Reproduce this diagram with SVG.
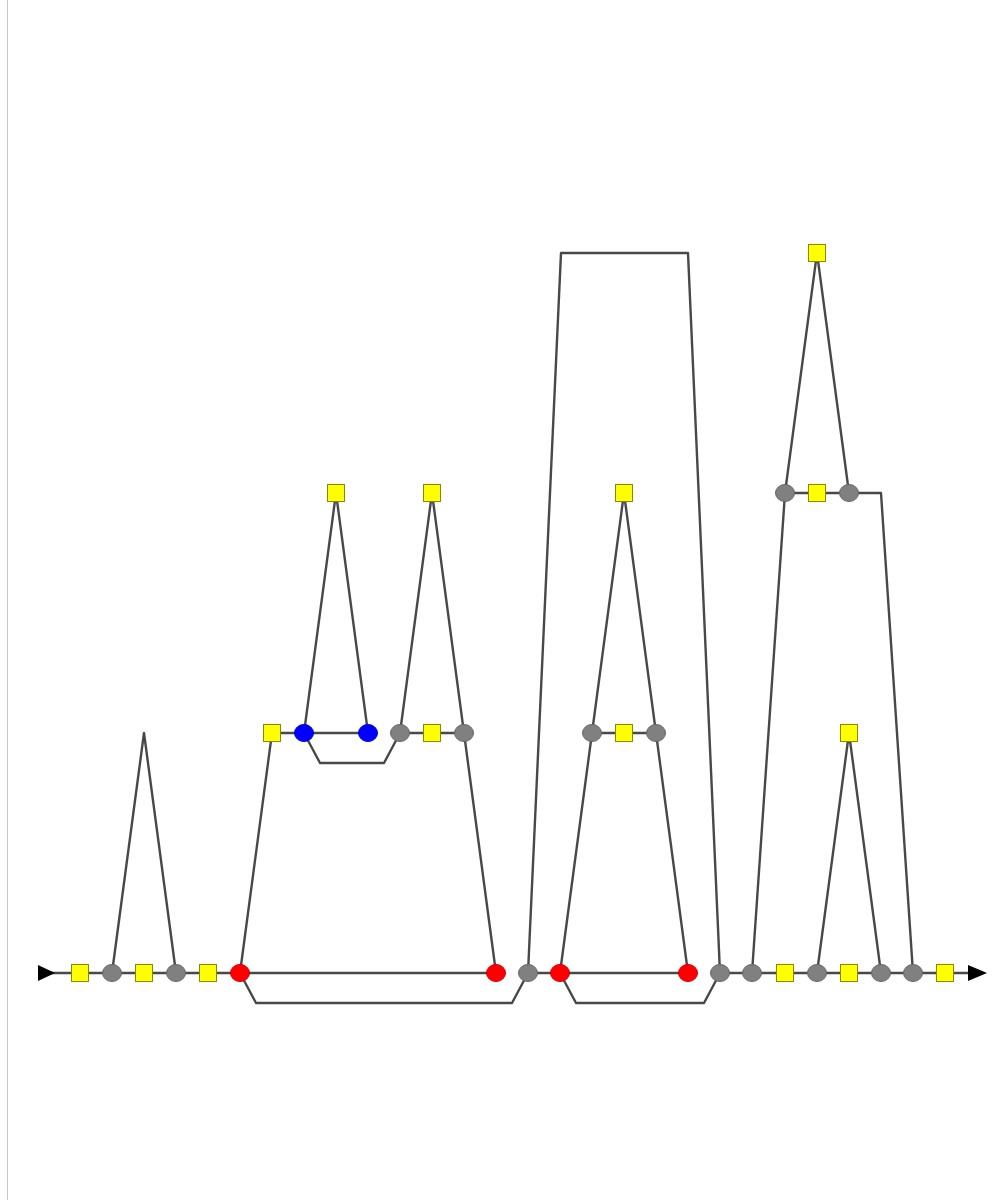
<svg xmlns="http://www.w3.org/2000/svg" width="992" height="1200" viewBox="0 0 992 1200">
<style>
.e{fill:none;stroke:#484848;stroke-width:2.4;stroke-linejoin:round}
.sq{fill:#ffff00;stroke:#8a8a00;stroke-width:1}
.g{fill:#808080;stroke:#666;stroke-width:1}
.r{fill:#ff0000;stroke:#c00;stroke-width:1}
.b{fill:#0000ff;stroke:#00c;stroke-width:1}
.a{fill:#000}
</style>
<rect width="992" height="1200" fill="#fff"/>
<line x1="7.5" y1="0" x2="7.5" y2="1200" stroke="#c8c8c8" stroke-width="1"/>
<g id="connectors">
<path class="e" d="M50,973H496"/>
<path class="e" d="M528,973H688"/>
<path class="e" d="M720,973H972"/>
<path class="e" d="M112,973L144,733L176,973"/>
<path class="e" d="M240,973L272,733H368"/>
<path class="e" d="M304,733L336,493L368,733"/>
<path class="e" d="M304,733L320,763H384L400,733H464"/>
<path class="e" d="M400,733L432,493L464,733L496,973"/>
<path class="e" d="M240,973L256,1003H512L528,973"/>
<path class="e" d="M528,973L561,253H688L720,973"/>
<path class="e" d="M560,973L592,733H656L688,973"/>
<path class="e" d="M592,733L624,493L656,733"/>
<path class="e" d="M560,973L576,1003H704L720,973"/>
<path class="e" d="M752,973L785,493H881L913,973"/>
<path class="e" d="M785,493L817,253L849,493"/>
<path class="e" d="M817,973L849,733L881,973"/>
</g>
<g id="arrows">
<polygon class="a" points="38,965 55,973 38,981"/>
<polygon class="a" points="968,965 987,973 968,981"/>
</g>
<g id="n1"><rect class="sq" x="71.5" y="964.5" width="17" height="17"/></g>
<g id="n2"><ellipse class="g" cx="112" cy="973" rx="9.5" ry="8.5"/></g>
<g id="n3"><rect class="sq" x="135.5" y="964.5" width="17" height="17"/></g>
<g id="n4"><ellipse class="g" cx="176" cy="973" rx="9.5" ry="8.5"/></g>
<g id="n5"><rect class="sq" x="199.5" y="964.5" width="17" height="17"/></g>
<g id="n6"><ellipse class="r" cx="240" cy="973" rx="9.5" ry="8.5"/></g>
<g id="n7"><ellipse class="r" cx="496" cy="973" rx="9.5" ry="8.5"/></g>
<g id="n8"><ellipse class="g" cx="528" cy="973" rx="9.5" ry="8.5"/></g>
<g id="n9"><ellipse class="r" cx="560" cy="973" rx="9.5" ry="8.5"/></g>
<g id="n10"><ellipse class="r" cx="688" cy="973" rx="9.5" ry="8.5"/></g>
<g id="n11"><ellipse class="g" cx="720" cy="973" rx="9.5" ry="8.5"/></g>
<g id="n12"><ellipse class="g" cx="752" cy="973" rx="9.5" ry="8.5"/></g>
<g id="n13"><rect class="sq" x="776.5" y="964.5" width="17" height="17"/></g>
<g id="n14"><ellipse class="g" cx="817" cy="973" rx="9.5" ry="8.5"/></g>
<g id="n15"><rect class="sq" x="840.5" y="964.5" width="17" height="17"/></g>
<g id="n16"><ellipse class="g" cx="881" cy="973" rx="9.5" ry="8.5"/></g>
<g id="n17"><ellipse class="g" cx="913" cy="973" rx="9.5" ry="8.5"/></g>
<g id="n18"><rect class="sq" x="936.5" y="964.5" width="17" height="17"/></g>
<g id="n19"><rect class="sq" x="263.5" y="724.5" width="17" height="17"/></g>
<g id="n20"><ellipse class="b" cx="304" cy="733" rx="9.5" ry="8.5"/></g>
<g id="n21"><ellipse class="b" cx="368" cy="733" rx="9.5" ry="8.5"/></g>
<g id="n22"><rect class="sq" x="327.5" y="484.5" width="17" height="17"/></g>
<g id="n23"><ellipse class="g" cx="400" cy="733" rx="9.5" ry="8.5"/></g>
<g id="n24"><rect class="sq" x="423.5" y="724.5" width="17" height="17"/></g>
<g id="n25"><ellipse class="g" cx="464" cy="733" rx="9.5" ry="8.5"/></g>
<g id="n26"><rect class="sq" x="423.5" y="484.5" width="17" height="17"/></g>
<g id="n27"><ellipse class="g" cx="592" cy="733" rx="9.5" ry="8.5"/></g>
<g id="n28"><rect class="sq" x="615.5" y="724.5" width="17" height="17"/></g>
<g id="n29"><ellipse class="g" cx="656" cy="733" rx="9.5" ry="8.5"/></g>
<g id="n30"><rect class="sq" x="615.5" y="484.5" width="17" height="17"/></g>
<g id="n31"><ellipse class="g" cx="785" cy="493" rx="9.5" ry="8.5"/></g>
<g id="n32"><rect class="sq" x="808.5" y="484.5" width="17" height="17"/></g>
<g id="n33"><ellipse class="g" cx="849" cy="493" rx="9.5" ry="8.5"/></g>
<g id="n34"><rect class="sq" x="808.5" y="244.5" width="17" height="17"/></g>
<g id="n35"><rect class="sq" x="840.5" y="724.5" width="17" height="17"/></g>
</svg>
